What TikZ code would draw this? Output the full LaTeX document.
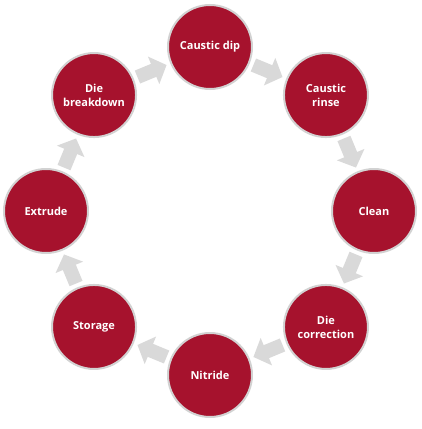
\documentclass[tikz,border=0pt]{standalone}
\usepackage{fontspec}
\setmainfont{Open Sans}
\usepackage{tikz}
\usetikzlibrary{arrows.meta}
\usepackage{xcolor}

\definecolor{diered}{HTML}{A6122D}
\definecolor{ringgray}{HTML}{D2D2D2}
\definecolor{flowgray}{HTML}{D9D9D9}

\begin{document}
\begin{tikzpicture}[
  x=1pt, y=1pt,
  stage/.style={circle, fill=diered, draw=ringgray, line width=2pt,
    minimum size=84pt, inner sep=0pt, align=center, text=white,
    font=\fontsize{11}{14}\selectfont\bfseries},
  flow/.style={draw=flowgray, line width=14pt,
    -{Triangle[width=29pt, length=14pt]},
    shorten <=4pt, shorten >=4pt},
]
  \useasboundingbox (-210,-218) rectangle (211,211);

  \node[stage] (dip)       at (90:164)   {Caustic dip};
  \node[stage] (rinse)     at (45:164)   {Caustic\\rinse};
  \node[stage] (clean)     at (0:164)    {Clean};
  \node[stage] (correct)   at (-45:164)  {Die\\correction};
  \node[stage] (nitride)   at (-90:164)  {Nitride};
  \node[stage] (storage)   at (-135:164) {Storage};
  \node[stage] (extrude)   at (180:164)  {Extrude};
  \node[stage] (breakdown) at (135:164)  {Die\\breakdown};

  \draw[flow] (dip) -- (rinse);
  \draw[flow] (rinse) -- (clean);
  \draw[flow] (clean) -- (correct);
  \draw[flow] (correct) -- (nitride);
  \draw[flow] (nitride) -- (storage);
  \draw[flow] (storage) -- (extrude);
  \draw[flow] (extrude) -- (breakdown);
  \draw[flow] (breakdown) -- (dip);
\end{tikzpicture}
\end{document}
